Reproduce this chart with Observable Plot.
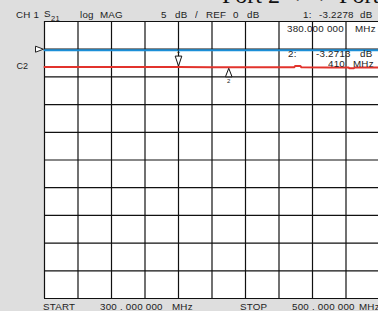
<!DOCTYPE html>
<html>
<head>
<meta charset="utf-8">
<script src="https://cdn.jsdelivr.net/npm/d3@7"></script>
<script src="https://cdn.jsdelivr.net/npm/@observablehq/plot@0.6"></script>
<style>
  html, body { margin: 0; padding: 0; background: #dedede; overflow: hidden; }
  #wrap { position: relative; width: 378px; height: 311px; overflow: hidden; background: #dedede; }
  #wrap svg { position: absolute; left: 0; top: 0; max-width: none !important; }
  .t { position: absolute; font-family: "Liberation Sans", Arial, sans-serif; font-size: 8.5px; line-height: 8.5px;
       color: #1c1c1c; white-space: pre; transform: scaleX(1.15); transform-origin: 0 0; letter-spacing: 0.2px; }
  .title { position: absolute; font-family: "Liberation Serif", "Times New Roman", serif; font-size: 24px; line-height: 24px;
           color: #111; white-space: pre; }
</style>
</head>
<body>
<div id="wrap"></div>
<script>
// ---- data ----
const freqStartMHz = 300;
const freqStopMHz = 500;
const xGridMHz = [300, 320, 340, 360, 380, 400, 420, 440, 460, 480, 500];
const yGridDB = [5, 0, -5, -10, -15, -20, -25, -30, -35, -40, -45];
const refLevelDB = 0;

// S21 trace (red)
const traceFreq = [300, 320, 340, 360, 380, 400, 410, 420, 440, 449, 449.6, 452.8, 453.4, 470, 481.5, 482, 484.6, 485.2, 500];
const traceS21 = [-3.22, -3.22, -3.23, -3.23, -3.2278, -3.25, -3.2713, -3.27, -3.28, -3.28, -3.05, -3.05, -3.28, -3.29, -3.30, -3.45, -3.45, -3.30, -3.31];

// second trace (blue), flat near reference
const trace2Freq = [300, 500];
const trace2DB = [-0.2, -0.2];

// markers
const markerId = ["1", "2"];
const markerFreq = [380, 410];
const markerDB = [-3.2278, -3.2713];

const red = traceFreq.map((f, i) => ({f, v: traceS21[i]}));
const blue = trace2Freq.map((f, i) => ({f, v: trace2DB[i]}));
const markers = markerId.map((id, i) => ({id, f: markerFreq[i], v: markerDB[i]}));

// custom marker symbols
const downTri = {draw(ctx) { ctx.moveTo(0, -1); ctx.lineTo(-3.3, -11); ctx.lineTo(3.3, -11); ctx.closePath(); }};
const upTri = {draw(ctx) { ctx.moveTo(0, 1); ctx.lineTo(-3.3, 9.5); ctx.lineTo(3.3, 9.5); ctx.closePath(); }};
const refTri = {draw(ctx) { ctx.moveTo(-8, -3); ctx.lineTo(0, 0); ctx.lineTo(-8, 3); ctx.closePath(); }};

const chart = Plot.plot({
  width: 381,
  height: 311,
  marginLeft: 44,
  marginRight: 2,
  marginTop: 21,
  marginBottom: 13,
  x: {domain: [freqStartMHz, freqStopMHz], axis: null},
  y: {domain: [-45, 5], axis: null},
  style: {background: "transparent", overflow: "visible", maxWidth: "none"},
  marks: [
    Plot.frame({fill: "white", stroke: "none"}),
    Plot.ruleX(xGridMHz, {stroke: "#111", strokeWidth: 1.2}),
    Plot.ruleY(yGridDB, {stroke: "#111", strokeWidth: 1.2}),
    Plot.line(blue, {x: "f", y: "v", stroke: "#1b8fd8", strokeWidth: 2}),
    Plot.line(red, {x: "f", y: "v", stroke: "#e2332c", strokeWidth: 2}),
    // reference level pointer
    Plot.dot([refLevelDB], {y: d => d, frameAnchor: "left", dx: -1, symbol: refTri, fill: "white", stroke: "#222", strokeWidth: 1}),
    // channel label at trace level
    Plot.text([markerDB[0]], {y: d => d, frameAnchor: "left", dx: -28, dy: -1, text: () => "C2", textAnchor: "start",
      fontFamily: "Liberation Sans", fontSize: 9, fill: "#1c1c1c"}),
    // marker 1 (down triangle above trace)
    Plot.dot(markers.slice(0, 1), {x: "f", y: "v", symbol: downTri, fill: "white", stroke: "#111", strokeWidth: 1}),
    Plot.text(markers.slice(0, 1), {x: "f", y: "v", text: "id", dy: -16, fontSize: 6, fill: "#222", fontFamily: "Liberation Sans"}),
    // marker 2 (up triangle below trace)
    Plot.dot(markers.slice(1), {x: "f", y: "v", symbol: upTri, fill: "white", stroke: "#111", strokeWidth: 1}),
    Plot.text(markers.slice(1), {x: "f", y: "v", text: "id", dy: 14, fontSize: 6, fill: "#222", fontFamily: "Liberation Sans"})
  ]
});

const wrap = document.getElementById("wrap");
wrap.appendChild(chart);

// header/footer annotation text (x = left edge, b = baseline)
const labels = [
  ["CH 1", 15.7, 18.5], ["S", 44, 17.5], ["log", 80, 18.5], ["MAG", 100, 18.5],
  ["5", 161, 18.5], ["dB", 175, 18.5], ["/", 195, 18.5],
  ["REF", 206, 18.5], ["0", 233, 18.5], ["dB", 247, 18.5],
  ["1:", 302.5, 18.5], ["-3.2278", 319, 18.5], ["dB", 360, 18.5],
  ["380.000 000", 286.7, 32.3], ["MHz", 355, 32.3],
  ["2:", 288, 56.7], ["-3.2713", 316, 56.7], ["dB", 360, 56.7],
  ["410", 328, 66.7], ["MHz", 353, 66.7],
  ["START", 43, 310], ["300 . 000 000", 100, 310], ["MHz", 172, 310],
  ["STOP", 240, 310], ["500 . 000 000", 292, 310], ["MHz", 359, 310]
];
for (const [txt, x, b] of labels) {
  const s = document.createElement("div");
  s.className = "t";
  s.textContent = txt;
  s.style.left = x + "px";
  s.style.top = (b - 7.2) + "px";
  wrap.appendChild(s);
}
const sub = document.createElement("div");
sub.className = "t";
sub.style.fontSize = "6.5px";
sub.textContent = "21";
sub.style.left = "50.5px";
sub.style.top = (20.5 - 5.6) + "px";
wrap.appendChild(sub);

const title = document.createElement("div");
title.className = "title";
title.textContent = "Port 2 < - > Port 1";
title.style.left = "222px";
title.style.top = (3.5 - 20.1) + "px";
wrap.appendChild(title);
</script>
</body>
</html>
